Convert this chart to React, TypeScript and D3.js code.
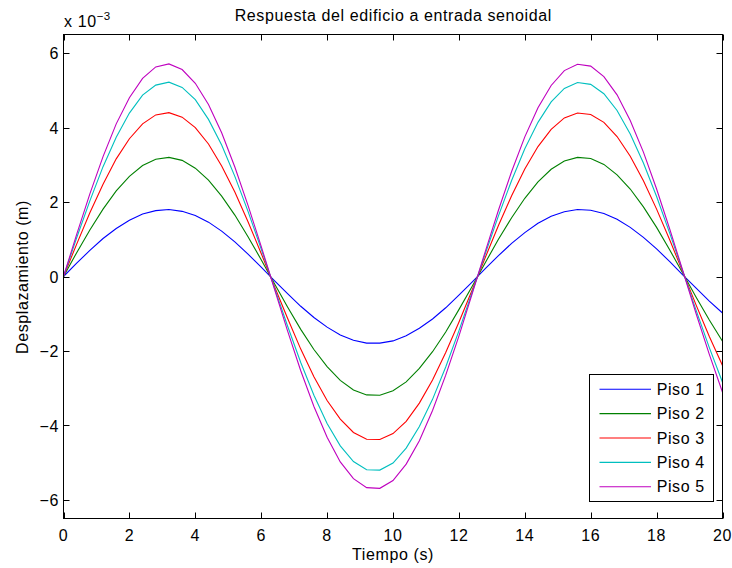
import React from "react";
import * as d3 from "d3";

// Time (s)
const tiempo = [
  0, 0.4, 0.8, 1.2, 1.6, 2, 2.4, 2.8, 3.2, 3.6, 4, 4.4, 4.8, 5.2, 5.6, 6, 6.4, 6.8, 7.2, 7.6, 8,
  8.4, 8.8, 9.2, 9.6, 10, 10.4, 10.8, 11.2, 11.6, 12, 12.4, 12.8, 13.2, 13.6, 14, 14.4, 14.8, 15.2,
  15.6, 16, 16.4, 16.8, 17.2, 17.6, 18, 18.4, 18.8, 19.2, 19.6, 20,
];

// Displacements in units of 1e-3 m
const piso1 = [
  0, 0.36, 0.7, 1.02, 1.29, 1.51, 1.68, 1.77, 1.8, 1.75, 1.64, 1.46, 1.22, 0.93, 0.6, 0.25, -0.11,
  -0.46, -0.8, -1.1, -1.36, -1.57, -1.71, -1.79, -1.79, -1.73, -1.59, -1.39, -1.14, -0.84, -0.5,
  -0.15, 0.21, 0.56, 0.89, 1.18, 1.43, 1.62, 1.74, 1.8, 1.78, 1.69, 1.54, 1.32, 1.05, 0.74, 0.4,
  0.04, -0.31, -0.66, -0.98,
];
const piso2 = [
  0, 0.64, 1.25, 1.81, 2.3, 2.69, 2.98, 3.15, 3.2, 3.12, 2.91, 2.59, 2.16, 1.65, 1.07, 0.45, -0.19,
  -0.82, -1.42, -1.96, -2.42, -2.79, -3.05, -3.18, -3.19, -3.07, -2.83, -2.47, -2.02, -1.49, -0.89,
  -0.27, 0.37, 1.0, 1.58, 2.1, 2.54, 2.88, 3.1, 3.2, 3.17, 3.01, 2.73, 2.35, 1.87, 1.32, 0.71, 0.08,
  -0.56, -1.17, -1.74,
];
const piso3 = [
  0, 0.87, 1.71, 2.48, 3.16, 3.7, 4.1, 4.34, 4.4, 4.28, 4.0, 3.56, 2.97, 2.27, 1.47, 0.62, -0.26,
  -1.12, -1.95, -2.69, -3.33, -3.83, -4.19, -4.37, -4.38, -4.22, -3.89, -3.4, -2.78, -2.04, -1.23,
  -0.37, 0.51, 1.37, 2.17, 2.89, 3.49, 3.95, 4.26, 4.39, 4.35, 4.14, 3.76, 3.23, 2.57, 1.81, 0.98,
  0.11, -0.77, -1.61, -2.39,
];
const piso4 = [
  0, 1.04, 2.03, 2.95, 3.74, 4.39, 4.87, 5.14, 5.22, 5.08, 4.75, 4.22, 3.53, 2.69, 1.75, 0.74, -0.3,
  -1.33, -2.31, -3.19, -3.95, -4.55, -4.97, -5.19, -5.2, -5.01, -4.61, -4.03, -3.3, -2.43, -1.46,
  -0.43, 0.61, 1.63, 2.58, 3.43, 4.14, 4.69, 5.05, 5.21, 5.16, 4.91, 4.46, 3.83, 3.05, 2.15, 1.16,
  0.13, -0.91, -1.91, -2.84,
];
const piso5 = [
  0, 1.13, 2.22, 3.22, 4.1, 4.8, 5.32, 5.63, 5.71, 5.56, 5.19, 4.62, 3.86, 2.94, 1.91, 0.81, -0.33,
  -1.46, -2.53, -3.49, -4.32, -4.98, -5.43, -5.67, -5.69, -5.48, -5.04, -4.41, -3.6, -2.65, -1.6,
  -0.47, 0.67, 1.78, 2.82, 3.75, 4.53, 5.13, 5.53, 5.7, 5.65, 5.37, 4.88, 4.19, 3.34, 2.35, 1.27,
  0.14, -1.0, -2.09, -3.11,
];

const seriesNames = ["Piso 1", "Piso 2", "Piso 3", "Piso 4", "Piso 5"];
const seriesValues = [piso1, piso2, piso3, piso4, piso5];
const seriesColors = ["#0000ff", "#008000", "#ff0000", "#00bfbf", "#bf00bf"];

const xTicks = [0, 2, 4, 6, 8, 10, 12, 14, 16, 18, 20];
const yTicks = [-6, -4, -2, 0, 2, 4, 6];

const W = 732;
const H = 568;
const L = 63.5;
const R = 722.5;
const T = 34.5;
const B = 518.5;
const FONT = "'Liberation Sans', Arial, Helvetica, sans-serif";
const FS = 16;
const LS = 0.6;

export default function App() {
  const x = d3.scaleLinear().domain([0, 20]).range([L, R]);
  const y = d3.scaleLinear().domain([-6.5, 6.5]).range([B, T]);
  const line = d3
    .line<number>()
    .x((_, i) => x(tiempo[i]))
    .y((d) => y(d));

  const fmt = (v: number) => (v < 0 ? "\u2212" + Math.abs(v) : String(v));
  const tickLen = 6;

  const legX0 = 589.5;
  const legY0 = 374.5;
  const legW = 124;
  const legH = 127;
  const rowY0 = 389.3;
  const rowStep = 24.35;

  return (
    <div style={{ position: "absolute", left: 0, top: 0 }}>
      <svg width={W} height={H} style={{ display: "block", background: "#fff" }} fontFamily={FONT}>
        <rect x={0} y={0} width={W} height={H} fill="#fff" />
        {seriesValues.map((vals, k) => (
          <path key={k} d={line(vals) || ""} fill="none" stroke={seriesColors[k]} strokeWidth={1.1} />
        ))}
        {/* axes box */}
        <rect x={L} y={T} width={R - L} height={B - T} fill="none" stroke="#000" strokeWidth={1} />
        {xTicks.map((t) => {
          const px = Math.round(x(t)) + 0.5;
          return (
            <g key={"xt" + t}>
              <line x1={px} x2={px} y1={B} y2={B - tickLen} stroke="#000" strokeWidth={1} />
              <line x1={px} x2={px} y1={T} y2={T + tickLen} stroke="#000" strokeWidth={1} />
              <text
                x={x(t)}
                y={540.5}
                fontSize={FS}
                letterSpacing={LS}
                textAnchor="middle"
                fill="#000"
              >
                {fmt(t)}
              </text>
            </g>
          );
        })}
        {yTicks.map((t) => {
          const py = Math.round(y(t)) + 0.5;
          return (
            <g key={"yt" + t}>
              <line x1={L} x2={L + tickLen} y1={py} y2={py} stroke="#000" strokeWidth={1} />
              <line x1={R} x2={R - tickLen} y1={py} y2={py} stroke="#000" strokeWidth={1} />
              <text
                x={59}
                y={y(t) + 6.3}
                fontSize={FS}
                letterSpacing={LS}
                textAnchor="end"
                fill="#000"
              >
                {fmt(t)}
              </text>
            </g>
          );
        })}
        {/* exponent label */}
        <text x={64} y={27} fontSize={FS} letterSpacing={LS} fill="#000">
          x 10
          <tspan fontSize={11.5} dy={-7.5} letterSpacing={0.3}>
            {"\u22123"}
          </tspan>
        </text>
        {/* title */}
        <text x={393.3} y={21} fontSize={FS} letterSpacing={LS} textAnchor="middle" fill="#000">
          Respuesta del edificio a entrada senoidal
        </text>
        {/* x label */}
        <text x={393} y={560} fontSize={FS} letterSpacing={LS} textAnchor="middle" fill="#000">
          Tiempo (s)
        </text>
        {/* y label */}
        <text
          transform={`translate(28,277) rotate(-90)`}
          fontSize={FS}
          letterSpacing={LS}
          textAnchor="middle"
          fill="#000"
        >
          Desplazamiento (m)
        </text>
        {/* legend */}
        <rect x={legX0} y={legY0} width={legW} height={legH} fill="#fff" stroke="#000" strokeWidth={1} />
        {seriesNames.map((name, k) => {
          const ry = rowY0 + k * rowStep;
          return (
            <g key={name}>
              <line x1={599.5} x2={651} y1={ry} y2={ry} stroke={seriesColors[k]} strokeWidth={1.1} />
              <text x={656.7} y={ry + 5.7} fontSize={FS} letterSpacing={LS} fill="#000">
                {name}
              </text>
            </g>
          );
        })}
      </svg>
    </div>
  );
}
